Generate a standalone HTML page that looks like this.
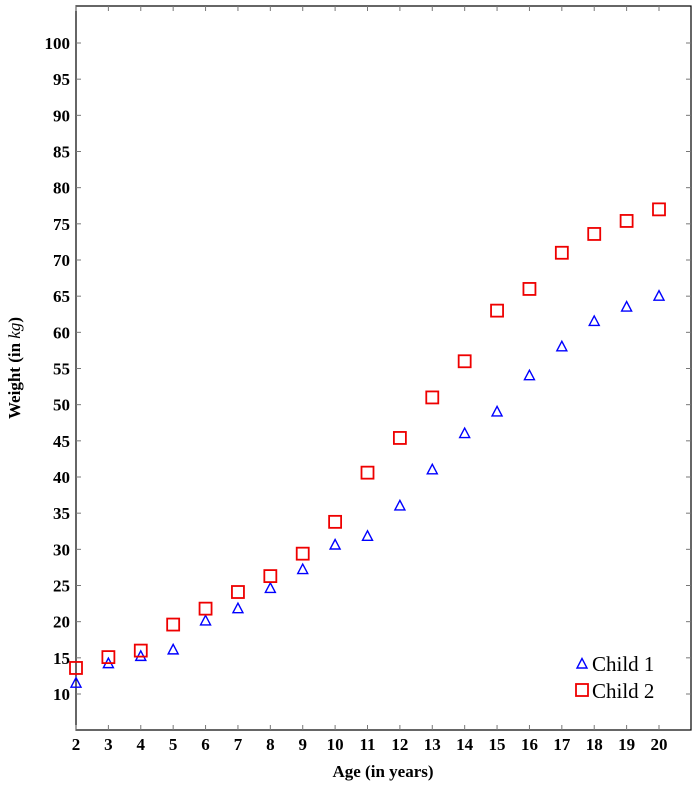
<!DOCTYPE html>
<html><head><meta charset="utf-8"><style>
body{margin:0;background:#fff}
svg text{font-family:"Liberation Serif",serif}
</style></head><body>
<svg id="c" width="700" height="784" xmlns="http://www.w3.org/2000/svg"></svg>
<script>
const ages=[2,3,4,5,6,7,8,9,10,11,12,13,14,15,16,17,18,19,20];
const child1=[11.5,14.2,15.2,16.1,20.1,21.8,24.6,27.2,30.6,31.8,36,41,46,49,54,58,61.5,63.5,65];
const child2=[13.6,15.1,16,19.6,21.8,24.1,26.3,29.4,33.8,40.6,45.4,51,56,63,66,71,73.6,75.4,77];
const yTicks=[10,15,20,25,30,35,40,45,50,55,60,65,70,75,80,85,90,95,100];
const xTicks=[2,3,4,5,6,7,8,9,10,11,12,13,14,15,16,17,18,19,20];
const NS="http://www.w3.org/2000/svg";
const svg=document.getElementById('c');
const L=76,R=691,T=6,B=730;
const xs=v=>76+(v-2)*(659-76)/18;
const ys=v=>694-(v-10)*(694-43)/90;
function mk(t,a,p){const e=document.createElementNS(NS,t);for(const k in a)e.setAttribute(k,a[k]);(p||svg).appendChild(e);return e;}
const frame=mk('rect',{x:L,y:T,width:R-L,height:B-T,fill:'none',stroke:'#000','stroke-width':1.2});


for(const v of xTicks){
 const x=xs(v);
 const tk=mk('line',{x1:x,x2:x,y1:B,y2:B-5,stroke:'#777','stroke-width':1});
 
 
 const tk2=mk('line',{x1:x,x2:x,y1:T,y2:T+5,stroke:'#777','stroke-width':1});
 
 
 const t=mk('text',{x:x,y:B+20,'text-anchor':'middle','font-size':17,'font-weight':'bold'});t.textContent=v;
 
 
}
for(const v of yTicks){
 const y=ys(v);
 const tk=mk('line',{x1:L,x2:L+5,y1:y,y2:y,stroke:'#777','stroke-width':1});
 
 
 const tk2=mk('line',{x1:R,x2:R-5,y1:y,y2:y,stroke:'#777','stroke-width':1});
 
 
 const t=mk('text',{x:L-6,y:y+6,'text-anchor':'end','font-size':17,'font-weight':'bold'});t.textContent=v;
 
 
}
function tri(x,y,name){const e=mk('polygon',{points:`${x},${y-5.5} ${x-5},${y+4} ${x+5},${y+4}`,fill:'none',stroke:'#00f','stroke-width':1.4});
 
 }
function sq(x,y,name){const e=mk('rect',{x:x-6,y:y-6,width:12,height:12,fill:'none',stroke:'#e00','stroke-width':1.8});
 
 }
ages.forEach((a,i)=>{tri(xs(a),ys(child1[i]),'child1-point');});
ages.forEach((a,i)=>{sq(xs(a),ys(child2[i]),'child2-point');});
tri(582,664,'legend-child1-marker');
sq(582,690,'legend-child2-marker');
let t=mk('text',{x:592,y:671,'font-size':21});t.textContent='Child 1';


t=mk('text',{x:592,y:698,'font-size':21});t.textContent='Child 2';


t=mk('text',{x:383,y:777,'text-anchor':'middle','font-size':17,'font-weight':'bold'});t.textContent='Age (in years)';


t=mk('text',{x:0,y:0,'text-anchor':'middle','font-size':17,'font-weight':'bold',transform:'translate(20,368) rotate(-90)'});
t.innerHTML='Weight (in <tspan font-style="italic" font-weight="normal">kg</tspan>)';


</script>
</body></html>
